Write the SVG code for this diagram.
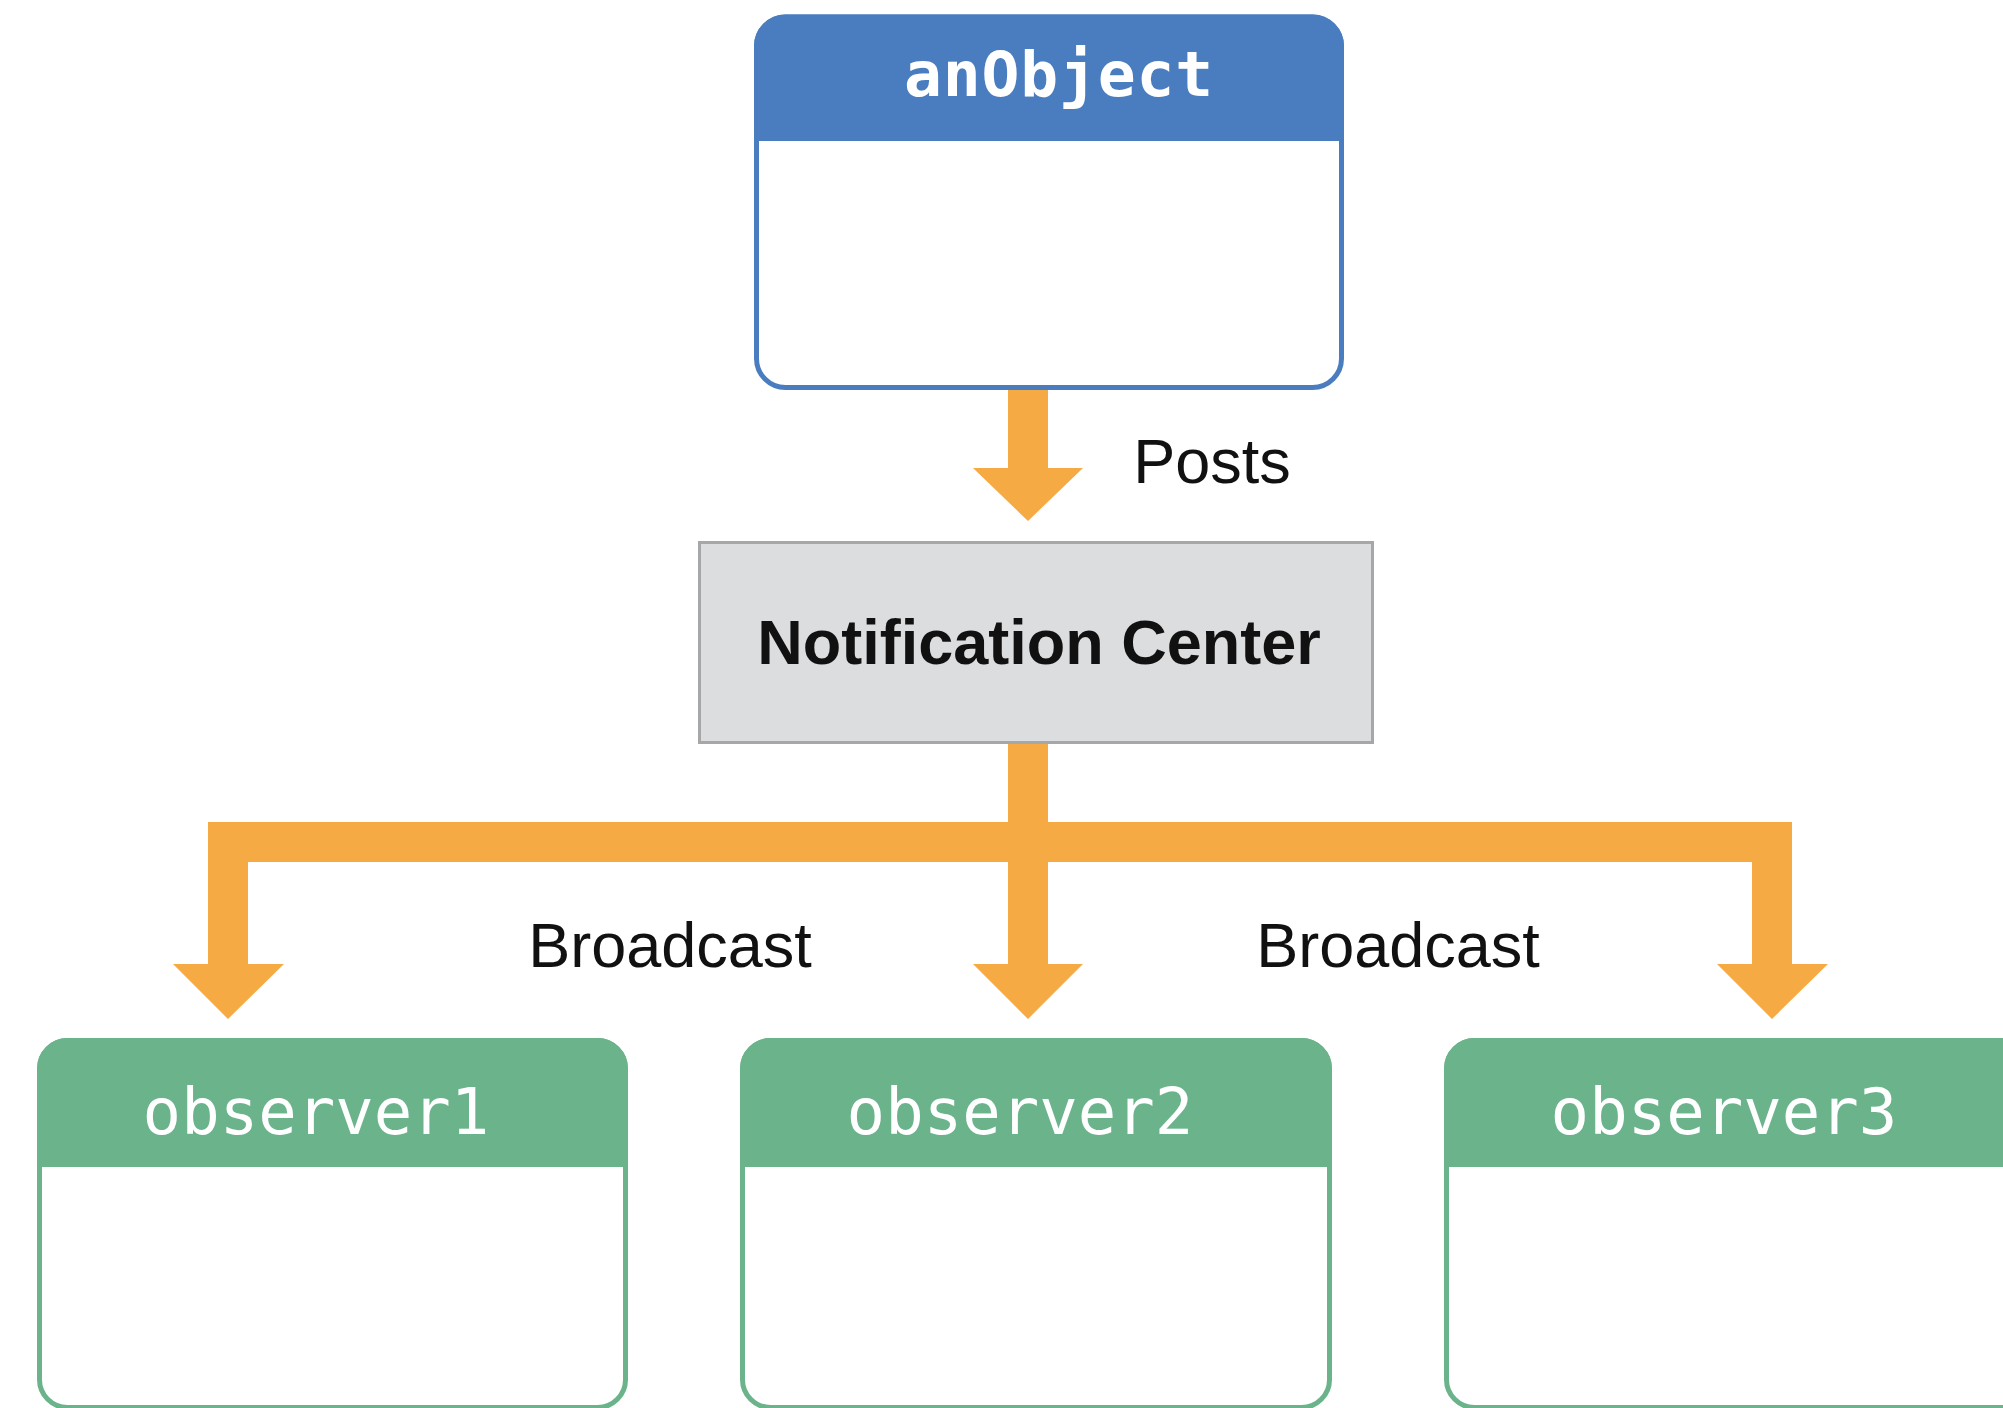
<svg xmlns="http://www.w3.org/2000/svg" width="2003" height="1408" viewBox="0 0 2003 1408">
<style>
.bg{fill:#ffffff}
.arrow{fill:#F6AA43}
.boxb{fill:#ffffff;stroke:#4A7DBF;stroke-width:5}
.hdrb{fill:#4A7DBF}
.boxg{fill:#ffffff;stroke:#6BB38A;stroke-width:5}
.hdrg{fill:#6BB38A}
.center{fill:#DCDDDF;stroke:#A6A7A9;stroke-width:3}
.mono{font-family:"DejaVu Sans Mono","Liberation Mono",monospace;fill:#ffffff;text-anchor:middle}
.lbl{font-family:"Liberation Sans",Arial,sans-serif;fill:#111111;font-size:63px;text-anchor:middle}
</style>
<rect class="bg" x="0" y="0" width="2003" height="1408"/>

<g id="connectors">
  <path class="arrow" d="M1008,388 H1048 V468 H1083 L1028,521 L973,468 H1008 Z"/>
  <path class="arrow" d="M1008,742 H1048 V822 H1792 V964 H1828 L1772,1019 L1717,964 H1752 V862 H1048 V964 H1083 L1028,1019 L973,964 H1008 V862 H248 V964 H284 L228,1019 L173,964 H208 V822 H1008 Z"/>
  <text class="lbl" x="1212" y="483">Posts</text>
  <text class="lbl" x="670" y="967">Broadcast</text>
  <text class="lbl" x="1398" y="967">Broadcast</text>
</g>

<g id="anObject">
  <rect class="boxb" x="756.5" y="17" width="585" height="370.5" rx="29"/>
  <path class="hdrb" d="M754,141 V46 A31.5,31.5 0 0 1 785.5,14.5 H1312.5 A31.5,31.5 0 0 1 1344,46 V141 Z"/>
  <text class="mono" x="1059" y="96" font-size="63" font-weight="bold" letter-spacing="0.8">anObject</text>
</g>

<g id="notificationCenter">
  <rect class="center" x="699.5" y="542.5" width="673" height="200"/>
  <text class="lbl" x="1039" y="664" font-size="64" font-weight="bold">Notification Center</text>
</g>

<g id="observer1">
  <rect class="boxg" x="39.5" y="1040.5" width="586" height="367" rx="28"/>
  <path class="hdrg" d="M37,1167 V1068.5 A30.5,30.5 0 0 1 67.5,1038 H597.5 A30.5,30.5 0 0 1 628,1068.5 V1167 Z"/>
  <text class="mono" x="316" y="1134" font-size="64">observer1</text>
</g>

<g id="observer2">
  <rect class="boxg" x="742.5" y="1040.5" width="587" height="367" rx="28"/>
  <path class="hdrg" d="M740,1167 V1068.5 A30.5,30.5 0 0 1 770.5,1038 H1301.5 A30.5,30.5 0 0 1 1332,1068.5 V1167 Z"/>
  <text class="mono" x="1020" y="1134" font-size="64">observer2</text>
</g>

<g id="observer3">
  <rect class="boxg" x="1446.5" y="1040.5" width="587" height="367" rx="28"/>
  <path class="hdrg" d="M1444,1167 V1068.5 A30.5,30.5 0 0 1 1474.5,1038 H2005.5 A30.5,30.5 0 0 1 2036,1068.5 V1167 Z"/>
  <text class="mono" x="1724" y="1134" font-size="64">observer3</text>
</g>
</svg>
